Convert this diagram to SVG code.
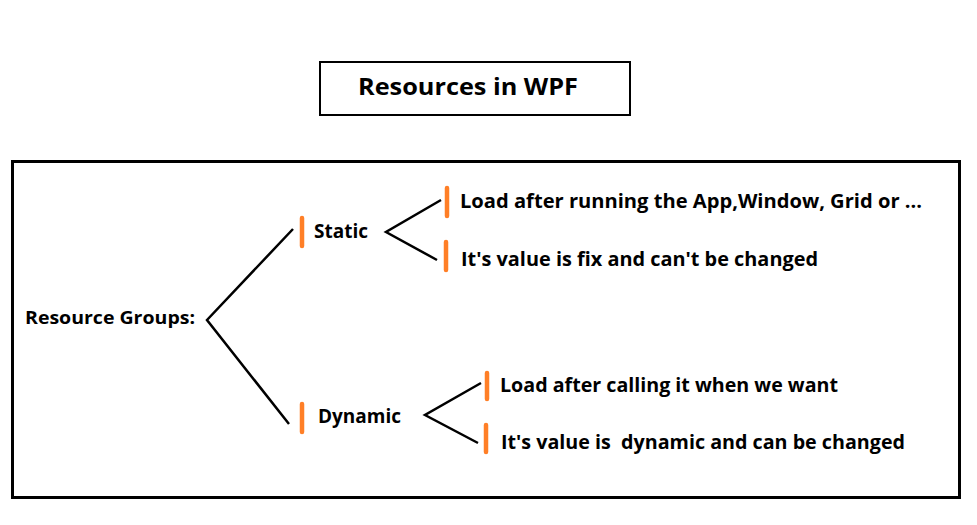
<svg xmlns="http://www.w3.org/2000/svg" width="977" height="525" viewBox="0 0 977 525">
<style>
.t{font-family:"Open Sans","Noto Sans","Liberation Sans",sans-serif;font-weight:700;fill:#000;white-space:pre}
.box{fill:none;stroke:#000}
.ln{fill:none;stroke:#000;stroke-width:2.5;stroke-linejoin:miter;stroke-linecap:butt}
.bar{stroke:#FF7F27;stroke-width:4.5;stroke-linecap:round}
</style>
<rect width="977" height="525" fill="#fff"/>
<g id="title">
<rect class="box" x="320" y="62" width="310" height="53" stroke-width="2"/>
<text class="t" x="358" y="95" font-size="24" textLength="220" lengthAdjust="spacingAndGlyphs">Resources in WPF</text>
</g>
<rect id="frame" class="box" x="12.5" y="161.5" width="947" height="336" stroke-width="3"/>
<g id="connectors">
<polyline class="ln" points="293,229 207,320 289,424"/>
<polyline class="ln" points="441,200 386,232 437,260"/>
<polyline class="ln" points="481,383 425,415 478,443"/>
</g>
<g id="root">
<text class="t" x="25" y="324" font-size="18" textLength="170" lengthAdjust="spacingAndGlyphs">Resource Groups:</text>
</g>
<g id="static">
<line class="bar" x1="302" y1="218" x2="302" y2="246"/>
<text class="t" x="314" y="238" font-size="20" textLength="54" lengthAdjust="spacingAndGlyphs">Static</text>
</g>
<g id="dynamic">
<line class="bar" x1="302" y1="404" x2="302" y2="432"/>
<text class="t" x="318" y="423" font-size="20" textLength="83" lengthAdjust="spacingAndGlyphs">Dynamic</text>
</g>
<g id="static-load">
<line class="bar" x1="447" y1="188" x2="447" y2="216"/>
<text class="t" x="460" y="208" font-size="19" textLength="462" lengthAdjust="spacingAndGlyphs">Load after running the App,Window, Grid or ...</text>
</g>
<g id="static-value">
<line class="bar" x1="446" y1="242" x2="446" y2="270"/>
<text class="t" x="461" y="266" font-size="19" textLength="357" lengthAdjust="spacingAndGlyphs">It's value is fix and can't be changed</text>
</g>
<g id="dynamic-load">
<line class="bar" x1="487" y1="373" x2="487" y2="399"/>
<text class="t" x="500" y="392" font-size="19" textLength="338" lengthAdjust="spacingAndGlyphs">Load after calling it when we want</text>
</g>
<g id="dynamic-value">
<line class="bar" x1="486" y1="425" x2="486" y2="452"/>
<text class="t" x="501" y="449" font-size="19" textLength="404" lengthAdjust="spacingAndGlyphs">It's value is  dynamic and can be changed</text>
</g>
</svg>
